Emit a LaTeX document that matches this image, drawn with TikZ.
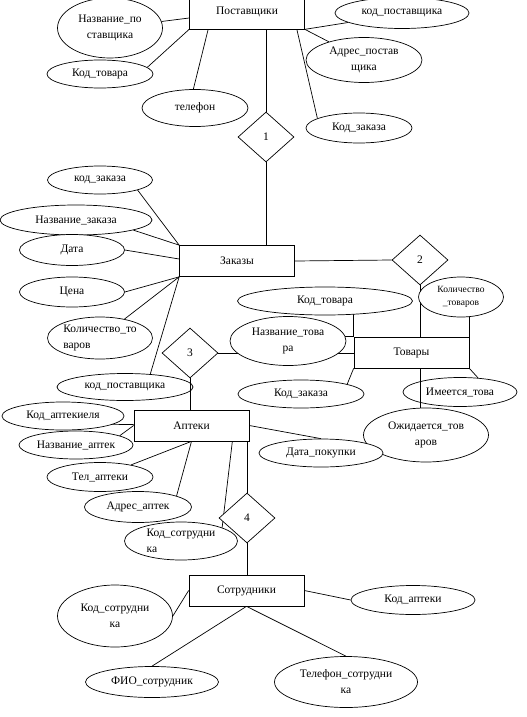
\documentclass[tikz,border=0pt]{standalone}
\usepackage{fontspec}
\setmainfont{Liberation Serif}
\usetikzlibrary{shapes.geometric,backgrounds}

\begin{document}
\begin{tikzpicture}[x=1pt, y=-1pt,
    every node/.style={font=\fontsize{11.5}{16}\selectfont},
    ent/.style={draw, rectangle, fill=white, line width=0.7pt, inner sep=0pt,
                minimum width=115pt, minimum height=31pt},
    attr/.style={draw, ellipse, fill=white, line width=0.7pt, inner sep=0pt, align=center},
    rel/.style={draw, diamond, fill=white, line width=0.7pt, inner sep=0pt,
                minimum width=56pt, minimum height=50pt},
    sz/.style 2 args={minimum width=#1pt, minimum height=#2pt},
    link/.style={line width=0.7pt},
  ]
  \useasboundingbox (0,0) rectangle (527,717);
  % entities
  \node[ent, minimum height=34pt] (post) at (247,12) {Поставщики};
  \node[ent] (zak) at (237,261) {Заказы};
  \node[ent] (tov) at (411.5,352.5) {Товары};
  \node[ent] (apt) at (191.5,425.5) {Аптеки};
  \node[ent] (sotr) at (246.5,590.5) {Сотрудники};
  % relations
  \node[rel] (r1) at (266,137) {1};
  \node[rel] (r2) at (420,260) {2};
  \node[rel] (r3) at (190,353) {3};
  \node[rel] (r4) at (247,518) {4};
  % attributes of Поставщики
  \node[attr, sz={105}{60}] (a_nazpost) at (110,28) {Название\_по\\ставщика};
  \node[attr, sz={106}{28}] (a_kodtov1) at (100,74) {Код\_товара};
  \node[attr, sz={106}{37}] (a_tel) at (195,108) {телефон};
  \node[attr, sz={134}{31}] (a_kodpost1) at (402,13) {код\_поставщика};
  \node[attr, sz={116}{45}] (a_adrpost) at (364,60) {Адрес\_постав\\щика};
  \node[attr, sz={106}{30}] (a_kodzak1) at (359,128) {Код\_заказа};
  % attributes of Заказы
  \node[attr, sz={105}{28}] (a_kodzak2) at (100,180) {код\_заказа};
  \node[attr, sz={152}{30}] (a_nazzak) at (76,220) {Название\_заказа};
  \node[attr, sz={105}{31}] (a_data) at (72,250) {Дата};
  \node[attr, sz={105}{30}] (a_cena) at (72,292) {Цена};
  \node[attr, sz={105}{42}, align=left] (a_kolzak) at (100,338) {Количество\_то\\варов};
  \node[attr, sz={136}{27}] (a_kodpost2) at (125,387) {код\_поставщика};
  % attributes of Товары
  \node[attr, sz={175}{28}] (a_kodtov2) at (325,301) {Код\_товара};
  \node[attr, sz={85}{40}, font=\fontsize{9.5}{13}\selectfont] (a_koltov) at (461,297)
    {Количество\\\_товаров};
  \node[attr, sz={116}{49}] (a_naztov) at (288,341) {Название\_това\\ра};
  \node[attr, sz={126}{28}] (a_kodzak3) at (301,394) {Код\_заказа};
  \node[attr, sz={114}{29}] (a_imeet) at (460,392) {Имеется\_това};
  \node[attr, sz={125}{54}] (a_ozhid) at (426,435) {Ожидается\_тов\\аров};
  % attributes of Аптеки
  \node[attr, sz={122}{28}] (a_kodapt1) at (63,416) {Код\_аптекиеля};
  \node[attr, sz={114}{28}] (a_nazapt) at (76,445) {Название\_аптек};
  \node[attr, sz={106}{29}] (a_telapt) at (100,477) {Тел\_аптеки};
  \node[attr, sz={107}{31}] (a_adrapt) at (138,507) {Адрес\_аптек};
  \node[attr, sz={124}{28}] (a_datapok) at (321,453) {Дата\_покупки};
  \node[attr, sz={113}{38}, align=left] (a_kodsotr1) at (181,541) {Код\_сотрудни\\ка};
  % attributes of Сотрудники
  \node[attr, sz={115}{62}] (a_kodsotr2) at (115,616) {Код\_сотрудни\\ка};
  \node[attr, sz={124}{29}] (a_kodapt2) at (413,600) {Код\_аптеки};
  \node[attr, sz={133}{31}] (a_fio) at (152,682) {ФИО\_сотрудник};
  \node[attr, sz={143}{51}] (a_telsotr) at (346,682) {Телефон\_сотрудни\\ка};
  % connectors, behind the shapes
  \begin{scope}[on background layer]
    \draw[link] (a_nazpost) -- ([yshift=-6pt]post.west);
    \draw[link] (a_kodtov1.8) -- (post.south west);
    \draw[link] (a_tel.95) -- ([xshift=19pt]post.south west);
    \draw[link] (a_kodpost1.190) -- (post.south east);
    \draw[link] (a_adrpost) -- (post.south east);
    \draw[link] (a_kodzak1.167) -- ([xshift=-8pt]post.south east);
    \draw[link] (r1.north) -- (r1.north |- post.south);
    \draw[link] (r1.south) -- (r1.south |- zak.north);
    \draw[link] (a_kodzak2.-15) -- (zak.north west);
    \draw[link] (a_nazzak.-10) -- (zak.north west);
    \draw[link] (a_data.east) -- ([yshift=2pt]zak.west);
    \draw[link] (a_cena.east) -- (zak.south west);
    \draw[link] (a_kolzak) -- (zak.south west);
    \draw[link] (a_kodpost2.27) -- (zak.south west);
    \draw[link] (zak.east) -- (r2.west);
    \draw[link] (r2.south) -- (r2.south |- tov.north);
    \draw[link] (tov.north west) -- (tov.north west |- a_kodtov2);
    \draw[link] (tov.north east) -- (tov.north east |- a_koltov);
    \draw[link] (tov.north west) -- (tov.north west -| a_naztov);
    \draw[link] (r3.east) -- (r3.east -| tov.west);
    \draw[link] (a_kodzak3.12) -- (tov.south west);
    \draw[link] (a_imeet.38) -- (tov.south east);
    \draw[link] (a_kodapt1.-10) -- ([yshift=1pt]apt.west);
    \draw[link] (a_nazapt.12) -- (apt.west);
    \draw[link] (a_telapt) -- (apt.south);
    \draw[link] (a_adrapt.16) -- (apt.south);
    \draw[link] (apt.east) -- (a_datapok.north);
    \draw[link] ([xshift=-17pt]apt.south east) -- (a_kodsotr1.18);
    \draw[link] (r4.north) -- (r4.north |- apt.south);
    \draw[link] (r4.south) -- (r4.south |- sotr.north);
    \draw[link] (a_kodsotr2.east) -- (sotr.west);
    \draw[link] (sotr.east) -- (a_kodapt2.west);
    \draw[link] (sotr.south) -- (a_fio.north);
    \draw[link] (sotr.south) -- (a_telsotr.north);
  \end{scope}
  % these two cross over the ellipses
  \draw[link] (r3.south) -- (r3.south |- apt.north);
  \draw[link] (r2.south |- tov.south) -- (r2.south |- a_ozhid.north);
\end{tikzpicture}
\end{document}
